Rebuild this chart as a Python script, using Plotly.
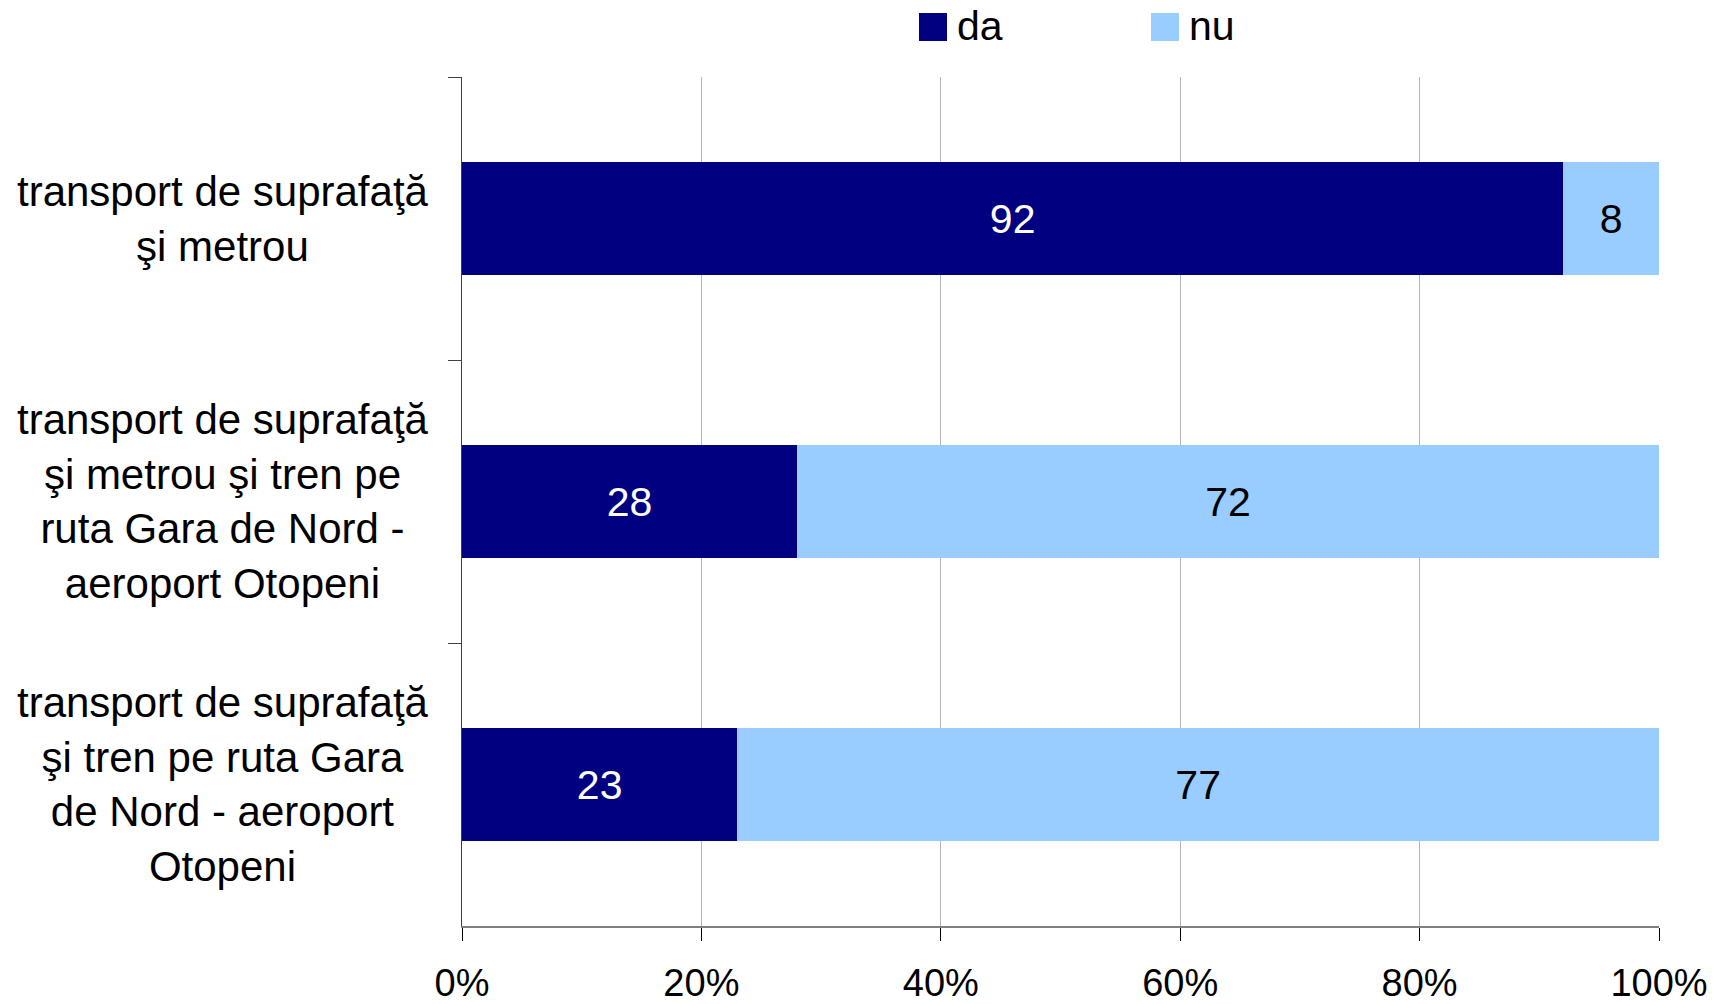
import plotly.graph_objects as go

# Survey results: share of respondents answering "da" / "nu" per transport option
categories = [
    "transport de suprafaţă<br>şi metrou",
    "transport de suprafaţă<br>şi metrou şi tren pe<br>ruta Gara de Nord -<br>aeroport Otopeni",
    "transport de suprafaţă<br>şi tren pe ruta Gara<br>de Nord - aeroport<br>Otopeni",
]
series_names = ["da", "nu"]
da_values = [92, 28, 23]
nu_values = [8, 72, 77]
x_ticks = [0, 20, 40, 60, 80, 100]
x_tick_labels = ["0%", "20%", "40%", "60%", "80%", "100%"]

colors = ["#000080", "#99CCFF"]
label_colors = ["#FFFFFF", "#000000"]

W, H = 1726, 1004
M_L, M_R, M_T, M_B = 462, 67, 77, 78
PLOT_W = W - M_L - M_R
PLOT_H = H - M_T - M_B

FONT = "Liberation Sans, Arial, sans-serif"
FS = 42

fig = go.Figure()
y_keys = [f"c{i}" for i in range(len(categories))]
for name, vals, col, tcol in zip(series_names, [da_values, nu_values], colors, label_colors):
    fig.add_trace(go.Bar(
        y=y_keys,
        x=vals,
        name=name,
        orientation="h",
        marker=dict(color=col, line=dict(width=0)),
        text=[str(v) for v in vals],
        textposition="inside",
        insidetextanchor="middle",
        textangle=0,
        constraintext="none",
        textfont=dict(family=FONT, size=41, color=tcol),
        showlegend=False,
        hoverinfo="skip",
    ))

# Category labels, centered multi-line text to the left of the axis
for key, label in zip(y_keys, categories):
    fig.add_annotation(
        x=0, xref="paper", y=key, yref="y",
        text=label, showarrow=False,
        xanchor="center", yanchor="middle", align="center",
        xshift=-239,
        font=dict(family=FONT, size=FS, color="#000000"),
    )

# Legend: square swatches followed by series names
def px_x(p):
    return (p - M_L) / PLOT_W

def px_y(p):
    return (H - M_B - p) / PLOT_H

legend_x = [919, 1151]
for name, col, lx in zip(series_names, colors, legend_x):
    fig.add_shape(
        type="rect", xref="paper", yref="paper",
        x0=px_x(lx), x1=px_x(lx + 28), y0=px_y(41), y1=px_y(13),
        fillcolor=col, line=dict(width=0),
    )
    fig.add_annotation(
        x=px_x(lx + 36), xref="paper", y=px_y(26), yref="paper",
        text=name, showarrow=False, xanchor="left", yanchor="middle",
        font=dict(family=FONT, size=41, color="#000000"),
    )

fig.update_layout(
    width=W, height=H,
    margin=dict(l=M_L, r=M_R, t=M_T, b=M_B, pad=0, autoexpand=False),
    paper_bgcolor="white", plot_bgcolor="white",
    barmode="stack", bargap=0.6,
    showlegend=False,
    xaxis=dict(
        range=[0, 100],
        tickvals=x_ticks, ticktext=x_tick_labels,
        showgrid=True, gridcolor="#b4b4b4", gridwidth=1,
        zeroline=False,
        showline=True, linecolor="#7f7f7f", linewidth=2,
        ticks="outside", ticklen=13, tickcolor="#000000", tickwidth=1,
        ticklabelstandoff=9,
        automargin=False,
        tickfont=dict(family="Liberation Sans Narrow, Arial Narrow, Liberation Sans, sans-serif",
                      size=38, color="#000000"),
        fixedrange=True,
    ),
    yaxis=dict(
        categoryorder="array", categoryarray=y_keys,
        autorange="reversed",
        showticklabels=False,
        automargin=False,
        showgrid=False, zeroline=False,
        showline=True, linecolor="#404040", linewidth=1,
        ticks="outside", tickson="boundaries", ticklen=13,
        tickcolor="#404040", tickwidth=1,
        fixedrange=True,
    ),
)

fig.write_html("out.html")
